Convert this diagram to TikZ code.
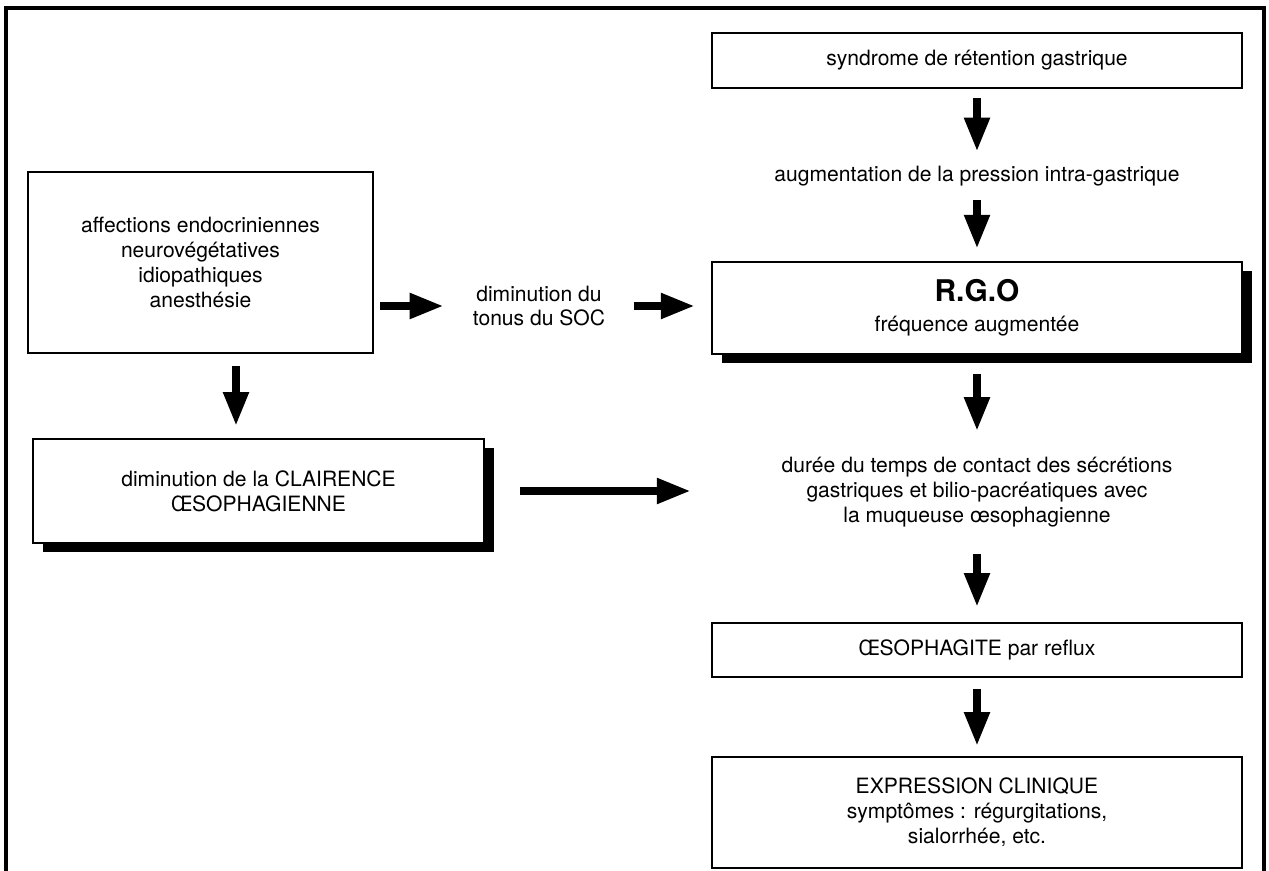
\documentclass[tikz,border=0pt]{standalone}
\usepackage{fontspec}
\setmainfont{TeX Gyre Heros}
\usetikzlibrary{arrows.meta,shadows}

\begin{document}
\begin{tikzpicture}[
    x=0.02cm, y=-0.02cm,
    every node/.style={font=\fontsize{12}{14.2}\selectfont, align=center, inner sep=0pt},
    gastro box/.style={draw, line width=1.1pt, fill=white},
    gastro shadow/.style={drop shadow={shadow xshift=0.2cm, shadow yshift=-0.18cm, fill=black, opacity=1}},
    flow/.style={line width=0.16cm, -{Triangle[length=0.68cm, width=0.48cm]}},
]
\useasboundingbox (0,0) rectangle (1269,871);
\draw[line width=0.08cm] (6,871) -- (6,8) -- (1264,8) -- (1264,871);

% right column
\node[gastro box, minimum width=10.6cm, minimum height=1.1cm] (syn) at (977,60.5) {syndrome de rétention gastrique};
\node[minimum height=0.6cm] (aug) at (977,176) {augmentation de la pression intra-gastrique};
\node[gastro box, gastro shadow, line width=1.4pt, minimum width=10.6cm, minimum height=1.84cm] (rgo) at (977,308)
    {{\fontsize{17}{20}\selectfont\bfseries R.G.O}\\[3pt] fréquence augmentée};
\node[minimum width=10.6cm, minimum height=2.06cm] (duree) at (977,492.5)
    {durée du temps de contact des sécrétions\\gastriques et bilio-pacréatiques avec\\la muqueuse œsophagienne};
\node[gastro box, minimum width=10.6cm, minimum height=1.08cm] (oeso) at (977,650) {ŒSOPHAGITE par reflux};
\node[gastro box, minimum width=10.6cm, minimum height=2.22cm] (expr) at (977,812.5)
    {EXPRESSION CLINIQUE\\symptômes : régurgitations,\\sialorrhée, etc.};

% left column
\node[gastro box, minimum width=6.9cm, minimum height=3.62cm] (aff) at (200.5,262.5)
    {affections endocriniennes\\neurovégétatives\\idiopathiques\\anesthésie};
\node[minimum width=3.4cm] (dim) at (539,306) {diminution du\\tonus du SOC};
\node[gastro box, gastro shadow, minimum width=9.02cm, minimum height=2.08cm] (cla) at (258.5,491)
    {diminution de la CLAIRENCE\\ŒSOPHAGIENNE};
\coordinate (drop) at (236,400);

\foreach \a/\b/\s/\t in {syn/aug/.18/.18, aug/rgo/.18/.24, rgo/duree/.38/.19, duree/oeso/.19/.3, oeso/expr/.22/.2}
    \draw[flow, shorten <=\s cm, shorten >=\t cm] (\a.south) -- (\b.north);
\draw[flow, shorten <=.12cm, shorten >=.2cm] (aff.east |- dim.west) -- (dim.west);
\draw[flow, shorten <=.2cm, shorten >=.32cm] (dim.east) -- (dim.east -| rgo.west);
\draw[flow, shorten <=.7cm, shorten >=.4cm] (cla.east) -- (cla.east -| rgo.west);
\draw[flow, shorten <=.24cm, shorten >=.24cm] (aff.south -| drop) -- (cla.north -| drop);
\end{tikzpicture}
\end{document}
